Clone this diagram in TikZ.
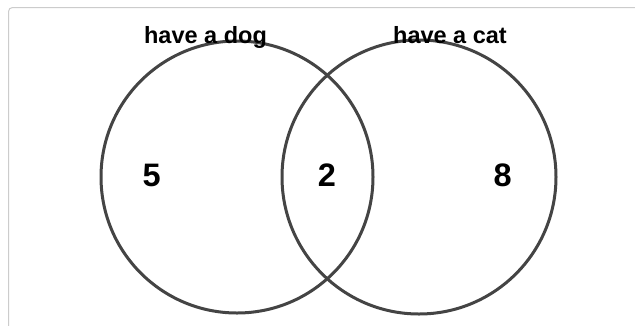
\documentclass[tikz,border=0pt]{standalone}
\usepackage{fontspec}
\setmainfont{Liberation Sans}
\definecolor{ringgray}{HTML}{444444}
\definecolor{framegray}{HTML}{CCCCCC}
\tikzset{
  set/.style={circle, draw=ringgray, line width=3pt, inner sep=0pt},
  setlabel/.style={font=\bfseries\fontsize{23.5}{28}\selectfont, anchor=base, inner sep=0pt},
  count/.style={font=\bfseries\fontsize{32.5}{38}\selectfont, inner sep=0pt}
}
\begin{document}
\begin{tikzpicture}[x=1pt, y=-1pt]
      \useasboundingbox (0,0) rectangle (635,325);
      \fill[white] (0,0) rectangle (635,325);
      \draw[framegray, line width=1pt, rounded corners=4pt] (8.5,340) -- (8.5,7.5) -- (650,7.5);
      \node[set, minimum size=272pt] (dog) at (237,177) {};
      \node[set, minimum size=274pt] (cat) at (419,177) {};
      \node[setlabel] (doglabel) at (205.5,43) {have a dog};
      \node[setlabel] (catlabel) at (450,43) {have a cat};
      \node[count] (onlydog) at (151.7,175) {5};
      \node[count] (both) at (327,175) {2};
      \node[count] (onlycat) at (502.7,175) {8};
\end{tikzpicture}
\end{document}
